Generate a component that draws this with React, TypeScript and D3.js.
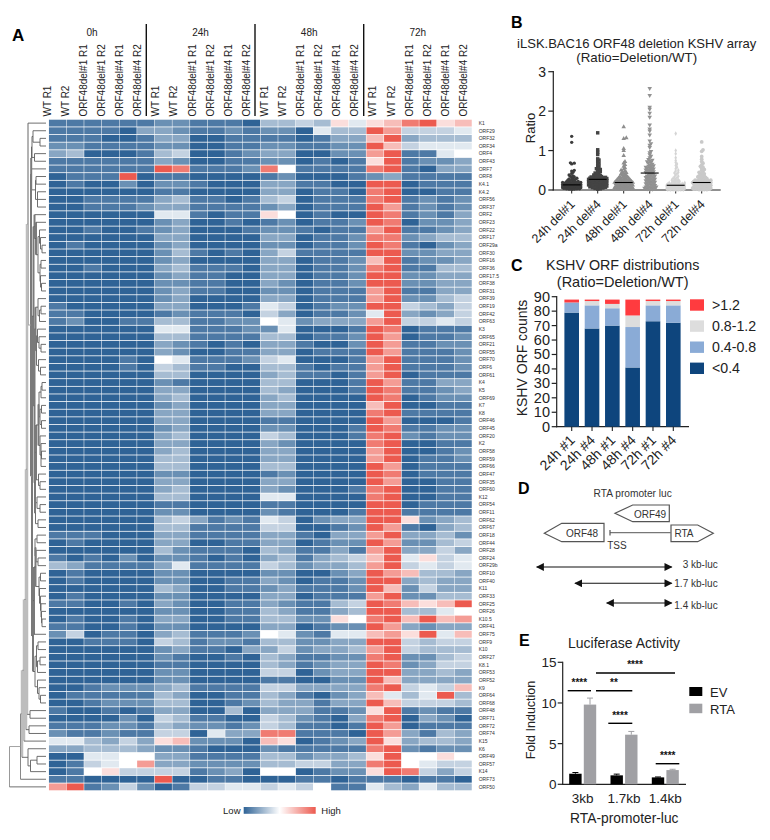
import React, { useMemo } from "react";
import * as d3 from "d3";

const FONT = "'Liberation Sans', Arial, sans-serif";

/* ---------- Panel A data ---------- */
const timeGroups = ["0h", "24h", "48h", "72h"];
const sampleLabels = ["WT R1", "WT R2", "ORF48del#1 R1", "ORF48del#1 R2", "ORF48del#4 R1", "ORF48del#4 R2"];
const geneLabels = ["K1","ORF29","ORF32","ORF34","ORF4","ORF43","ORF7","ORF8","K4.1","K4.2","ORF56","ORF37","ORF2","ORF23","ORF22","ORF17","ORF29a","ORF30","ORF16","ORF36","ORF17.5","ORF38","ORF31","ORF39","ORF19","ORF42","ORF63","K3","ORF65","ORF21","ORF55","ORF70","ORF6","ORF61","K4","K5","ORF69","K7","K8","ORF46","ORF45","ORF20","K2","ORF58","ORF59","ORF66","ORF47","ORF35","ORF60","K12","ORF54","ORF11","ORF62","ORF67","ORF18","ORF44","ORF28","ORF24","ORF29b","ORF10","ORF40","K11","ORF33","ORF25","ORF26","K10.5","ORF41","ORF75","ORF9","K10","ORF27","K8.1","ORF53","ORF52","K9","ORF64","ORF68","ORF48","ORF71","ORF72","ORF74","K15","K6","ORF49","ORF57","K14","ORF73","ORF50"];
// expression level per gene: base-13 digit, 0 = lowest, 7 = middle, c = highest
const heatLevels = [
"111111 221110 445486 89bc89",
"111103 321121 220644 ca5556",
"111001 330011 110133 9c3444",
"221111 220011 221122 c95666",
"340001 450012 330022 ac1167",
"111111 320011 220101 8c1223",
"111111 cb1112 b71111 bc1033",
"0111c0 110000 120001 231111",
"010020 221000 331100 cc0111",
"000000 110000 330110 bc0011",
"001111 341101 450111 bc1212",
"001112 331111 230111 ca1212",
"000000 661011 870100 cb1213",
"000000 230010 120112 cb0223",
"001001 230001 221011 ac1123",
"000000 330000 330112 bb2344",
"010000 230000 220112 cb1023",
"000000 241010 351111 cc2233",
"000000 230000 330112 9c1223",
"001000 341110 330112 bc1144",
"000000 231100 330112 cc2233",
"000000 221100 320112 cc2233",
"000000 231100 220111 ac1133",
"000000 230000 330111 ac2245",
"100000 330001 650122 cc5435",
"110000 121110 530112 6c3235",
"120011 441122 762333 ac5565",
"000000 661112 260001 cb0111",
"000000 441111 440112 ca0112",
"000000 321010 331002 ca1122",
"000000 320011 330111 ca1112",
"000010 761112 560001 ac1112",
"000010 541100 441011 ac1112",
"000000 440000 341101 ac0111",
"000000 210000 440001 ca1133",
"000000 330000 430001 cb1123",
"000000 340000 340000 cb0122",
"000000 230000 330000 9c0011",
"000000 330000 330000 bc1111",
"000000 330000 110000 ca0001",
"000000 230000 220001 cb1122",
"000000 340000 540001 bc2122",
"000000 330000 320000 bc0011",
"000000 340000 330000 ac0012",
"000000 440000 330000 ac0112",
"000000 440000 440000 ca0111",
"000000 220000 120000 cb0111",
"000000 330000 330000 ca0011",
"000000 340000 320001 bc0011",
"000000 440000 660000 bc0011",
"000000 110000 110000 cc0111",
"000000 220000 210001 cc1111",
"000000 453121 650233 cc8234",
"000000 441111 550012 ca1034",
"111000 331111 331033 ac3342",
"010000 330011 330122 ca2245",
"000000 421110 431131 ac3353",
"101020 221010 341345 9c6856",
"431111 361111 542334 ac5656",
"010000 220000 220023 ca9443",
"010000 220011 320112 cc3433",
"000000 430011 231112 c92533",
"010000 220000 330111 ac2244",
"110010 320011 321145 cb989c",
"000000 220011 431134 cc4467",
"010010 330011 442287 bc9c9a",
"110010 220000 330122 ca3233",
"250110 341112 762166 9a8c69",
"001110 541221 442233 cc5455",
"000000 231103 352334 ac5444",
"000000 210010 431122 bc2245",
"000000 110000 431233 cb2355",
"000000 220000 550233 cc3343",
"000000 220000 110022 c93333",
"001222 341111 553333 bc5659",
"011111 430011 431023 9646c4",
"001222 440012 433133 c95554",
"100101 330040 333112 8c1211",
"000020 541100 542103 bc0320",
"111221 432212 541101 ca0111",
"211211 550633 bb1110 ca3143",
"664353 892220 980123 c83443",
"334443 221000 211111 bc2122",
"006677 331111 442334 8c7787",
"01567a 332222 445533 bc7655",
"017855 551230 770122 8cb535",
"110000 c00110 001101 110110",
"ac1252 015566 565711 643644",
];

// Dendrogram: [merge height, ...children]; a child is a gene name or another merge
const topGenes = [14.5, [14, [13, "ORF29", [6, "ORF32", "ORF34"]], [11.5, "ORF4", "ORF43"]], "ORF7"];
const k4Genes = [10.5, [10, "ORF8", "K4.1"], [8.5, "K4.2", "ORF56", "ORF37"]];
const g3 = [11.5, "ORF2", [10, "ORF23", [8, [6.5, "ORF22", [5.5, "ORF17", [4, "ORF29a", "ORF30"]]], [6, [5, "ORF16", "ORF36"], [5.5, "ORF17.5", [4.5, "ORF38", "ORF31"]]]]]];
const g4 = [8, "ORF39", [6.5, [5, "ORF19", "ORF42"], "ORF63"]];
const g5 = [8.5, "K3", [7, "ORF65", [5, "ORF21", "ORF55"]]];
const g6 = [7.5, "ORF70", [5.5, "ORF6", "ORF61"]];
const g7 = [7.5, [7, [5, [4, "K4", "K5"], "ORF69"], [6, [4.5, "K7", "K8"], [4.5, "ORF46", "ORF45"]]], [6, "ORF20", [5, "K2", [4.5, "ORF58", "ORF59"], "ORF66"]]];
const g8 = [7.5, "ORF47", [6, "ORF35", "ORF60"]];
const g9 = [9, "K12", [6, "ORF54", "ORF11"]];
const upperBlock = [12.5, g3, [11.5, [10.5, g4, [9.5, g5, g6]], [11, [10, g7, g8], [10.5, g9, [8, "ORF62", "ORF67"]]]]];
const l1 = [11, [9, "ORF18", "ORF44"], [10, "ORF28", [8, "ORF24", "ORF29b"]]];
const l2 = [7, [5.5, "ORF10", "ORF40"], [6.5, "K11", [5.5, "ORF33", [5, "ORF25", [4.5, "ORF26", [4, "K10.5", "ORF41"]]]]]];
const l3 = [12, [10.5, l1, l2], "ORF75"];
const l4 = [9.5, [8, "ORF9", "K10"], [8.5, [6, "ORF27", "K8.1"], "ORF53"]];
const l5 = [8.5, "ORF52", [7, "K9", [5.5, "ORF64", "ORF68"]]];
const lowerBlock = [13, l3, [11, l4, l5]];
const dendrogram = [36.5, [25.5, [24, [22, [20, [19, [18, "K1", [15, [14.8, topGenes, k4Genes], [14, upperBlock, lowerBlock]]], [16, "ORF48", "ORF71"]], [17, "ORF72", "ORF74"]], "K15"], [18, "K6", [15.5, [9, "ORF49", "ORF57"], "K14"]]], "ORF73"], "ORF50"];

/* ---------- Panel B data ---------- */
const ratioGroups = ["24h del#1", "24h del#4", "48h del#1", "48h del#4", "72h del#1", "72h del#4"];
const ratioMedians = [0.13, 0.27, 0.19, 0.43, 0.12, 0.19];
const ratio24h1 = [1.36,1.21,.69,.68,.66,.5,.48,.45,.42,.38,.36,.35,.33,.32,.3,.29,.28,.27,.26,.25,.24,.23,.22,.21,.21,.2,.2,.19,.19,.18,.18,.17,.17,.17,.16,.16,.16,.15,.15,.15,.14,.14,.14,.14,.13,.13,.13,.13,.13,.12,.12,.12,.12,.11,.11,.11,.1,.1,.1,.1,.09,.09,.09,.09,.08,.08,.08,.08,.07,.07,.07,.07,.06,.06,.06,.06,.05,.05,.05,.04,.04,.04,.03,.03,.03,.02,.02,.01];
const ratio24h4 = [1.45,1.02,.96,.9,.79,.76,.72,.68,.64,.6,.57,.54,.52,.5,.47,.45,.43,.41,.39,.38,.37,.36,.35,.34,.33,.33,.32,.32,.31,.31,.3,.3,.29,.29,.28,.28,.28,.27,.27,.27,.26,.26,.26,.25,.25,.25,.24,.24,.23,.23,.22,.22,.21,.21,.2,.2,.19,.19,.18,.18,.17,.17,.16,.16,.15,.15,.14,.14,.13,.13,.12,.12,.11,.11,.1,.1,.09,.09,.08,.08,.07,.07,.06,.06,.05,.04,.03,.02];
const ratio48h1 = [1.6,1.32,1.3,1.05,1.0,.87,.72,.68,.64,.6,.56,.53,.5,.48,.46,.44,.42,.41,.39,.38,.36,.35,.34,.33,.32,.31,.3,.29,.28,.28,.27,.26,.25,.25,.24,.24,.23,.22,.22,.21,.21,.2,.2,.2,.19,.19,.19,.18,.18,.17,.17,.16,.16,.15,.15,.14,.14,.13,.13,.12,.12,.11,.11,.1,.1,.09,.09,.08,.08,.07,.07,.06,.06,.05,.05,.05,.04,.04,.04,.03,.03,.03,.02,.02,.02,.01,.01,.01];
const ratio48h4 = [2.58,2.4,2.1,2.05,1.95,1.85,1.65,1.55,1.5,1.4,1.25,1.18,1.14,1.08,.98,.95,.9,.86,.82,.78,.76,.74,.72,.7,.68,.66,.64,.62,.61,.6,.58,.57,.56,.55,.54,.53,.52,.51,.5,.49,.48,.47,.46,.45,.44,.43,.41,.39,.38,.37,.36,.35,.34,.33,.32,.31,.3,.29,.28,.27,.26,.25,.24,.23,.22,.21,.2,.19,.18,.17,.16,.15,.14,.13,.12,.11,.1,.09,.08,.08,.07,.06,.05,.05,.04,.03,.02,.01];
const ratio72h1 = [1.43,1.0,.92,.82,.75,.7,.66,.62,.58,.54,.5,.48,.45,.43,.41,.38,.35,.33,.31,.29,.27,.26,.25,.24,.23,.22,.21,.2,.19,.18,.18,.17,.17,.16,.16,.15,.15,.14,.14,.14,.13,.13,.13,.12,.12,.12,.12,.11,.11,.11,.1,.1,.1,.09,.09,.09,.08,.08,.08,.07,.07,.07,.06,.06,.06,.05,.05,.05,.04,.04,.04,.03,.03,.03,.03,.02,.02,.02,.02,.02,.01,.01,.01,.01,.01,.01,.01,.01];
const ratio72h4 = [1.22,1.02,.98,.85,.78,.72,.68,.64,.6,.58,.55,.52,.5,.47,.45,.43,.41,.39,.38,.36,.35,.34,.33,.32,.31,.3,.29,.28,.27,.26,.25,.25,.24,.24,.23,.23,.22,.22,.21,.21,.2,.2,.2,.19,.19,.19,.18,.18,.17,.17,.16,.16,.15,.15,.14,.14,.13,.13,.12,.12,.11,.11,.1,.1,.09,.09,.08,.08,.07,.07,.06,.06,.05,.05,.05,.04,.04,.04,.03,.03,.03,.02,.02,.02,.01,.01,.01,.01];
const ratioSeries = [ratio24h1, ratio24h4, ratio48h1, ratio48h4, ratio72h1, ratio72h4];
const ratioColors = ["#3d3d3d", "#444444", "#8e8e8e", "#929292", "#d4d4d4", "#c9c9c9"];
const ratioShapes = [d3.symbolCircle, d3.symbolSquare, d3.symbolTriangle, "down", d3.symbolDiamond, d3.symbolCircle];
const ratioSizes = [8.5, 12, 9, 9, 6, 11];

/* ---------- Panel C data ---------- */
const orfGroups = ["24h #1", "24h #4", "48h #1", "48h #4", "72h #1", "72h #4"];
const binNames = ["<0.4", "0.4-0.8", "0.8-1.2", ">1.2"];
const binColors = ["#0e457d", "#8aabd6", "#dddddd", "#ff3b3f"];
const binLow = [79, 68, 70, 41, 73, 72];
const binMid = [7, 16, 12, 28, 11, 12];
const binHigh = [0, 3, 3, 8, 3, 3];
const binTop = [2, 1, 3, 11, 1, 1];

/* ---------- Panel E data ---------- */
const lucGroups = ["3kb", "1.7kb", "1.4kb"];
const lucEV = [1.3, 1.1, 0.85];
const lucEVErr = [0.15, 0.15, 0.05];
const lucRTA = [9.8, 6.1, 1.75];
const lucRTAErr = [0.8, 0.4, 0.1];

/* ---------- helpers ---------- */
const T = (p: any) => <text fontFamily={FONT} fill="#222" {...p} />;

function branchStyle(h: number, size: number) {
  if (size < 10) return { w: 0.9, c: "#5f5f5f" };
  if (h >= 36) return { w: 1, c: "#999999" };
  if (h === 25.5) return { w: 1, c: "#888888" };
  if (h === 18) return { w: 1, c: "#666666" };
  if (h >= 19) return { w: 2.5, c: "#bdbdbd" };
  return { w: 2, c: "#7a7a7a" };
}

function layoutTree(root: any, yOf: (n: string) => number, xOf: (h: number) => number) {
  const segs: any[] = [];
  function walk(n: any): { x: number; y: number; size: number } {
    if (typeof n === "string") return { x: xOf(0), y: yOf(n), size: 1 };
    const [h, ...kids] = n;
    const cs = kids.map(walk);
    const x = xOf(h);
    const size = d3.sum(cs, (c: any) => c.size);
    const ys = cs.map((c: any) => c.y);
    segs.push({ x1: x, x2: x, y1: d3.min(ys), y2: d3.max(ys), ...branchStyle(h, size) });
    cs.forEach((c: any) => segs.push({ x1: x, x2: c.x, y1: c.y, y2: c.y, w: 0.9, c: c.size > 60 ? "#9a9a9a" : "#5f5f5f" }));
    return { x, y: (ys[0] + ys[ys.length - 1]) / 2, size };
  }
  walk(root);
  return segs;
}

function swarm(values: number[], y: (v: number) => number, cap: number, step: number, minD: number) {
  const sorted = [...values].sort((a, b) => a - b);
  const placed: { dx: number; py: number }[] = [];
  sorted.forEach((v) => {
    const py = y(v);
    let best = 0, bestD = -1;
    for (let i = 0; ; i++) {
      const off = i === 0 ? 0 : (i % 2 ? 1 : -1) * Math.ceil(i / 2) * step;
      if (Math.abs(off) > cap) break;
      const near = placed.filter((p) => Math.abs(p.py - py) < minD + 1);
      const d = near.length ? d3.min(near, (p) => Math.hypot(p.dx - off, p.py - py))! : 99;
      if (d >= minD) { best = off; bestD = d; break; }
      if (d > bestD) { bestD = d; best = off; }
    }
    placed.push({ dx: best, py });
  });
  return placed;
}

function LeftAxis({ scale, ticks, x, len = 5 }: any) {
  const [a, b] = scale.range();
  return (
    <g stroke="#222" strokeWidth={1.2}>
      <line x1={x} x2={x} y1={a + 0.6} y2={b - 0.6} />
      {ticks.map((t: number) => <line key={t} x1={x - len} x2={x} y1={scale(t)} y2={scale(t)} />)}
    </g>
  );
}

export default function App() {
  /* Panel A scales */
  const allColumns = d3.range(24);
  const xCell = d3.scaleBand<number>().domain(allColumns).range([48.7, 472]);
  const yCell = d3.scaleBand<string>().domain(geneLabels).range([119.3, 790.7]);
  const heatColor = d3.scaleLinear<string>().domain([0, 7, 12]).range(["#2f6396", "#ffffff", "#ec5a4f"]);
  const xHeader = d3.scaleLinear().domain([0, 23]).range([47.3, 463.4]);
  const xDend = d3.scaleLinear().domain([0, 36.5]).range([46, 9.5]);
  const dendSegs = useMemo(() => layoutTree(dendrogram, (n) => yCell(n)! + yCell.bandwidth() / 2, xDend), []);

  /* Panel B scales */
  const yB = d3.scaleLinear().domain([0, 3]).range([190, 71.7]);
  const xB = d3.scalePoint<string>().domain(ratioGroups).range([571.7, 701.7]);
  const swarms = useMemo(() => ratioSeries.map((s) => swarm(s, yB, 9.5, 1.3, 1.7)), []);

  /* Panel C scales */
  const yC = d3.scaleLinear().domain([0, 90]).range([426.7, 296.7]);
  const xC = d3.scalePoint<string>().domain(orfGroups).range([571.7, 673.3]);
  const stackKeys = [binLow, binMid, binHigh, binTop];
  const stack = d3.stack<number>().keys([0, 1, 2, 3] as any).value((i: any, k: any) => stackKeys[k][i])(d3.range(6));

  /* Panel E scales */
  const yE = d3.scaleLinear().domain([0, 15]).range([784.3, 662.3]);
  const xE = d3.scalePoint<string>().domain(lucGroups).range([582.7, 665.3]);
  const lucBars = (vals: number[], errs: number[], dx: number, fill: string) =>
    vals.map((v, i) => {
      const cx = xE(lucGroups[i])! + dx;
      return (
        <g key={fill + i}>
          <line x1={cx} x2={cx} y1={yE(v)} y2={yE(v + errs[i])} stroke={fill} strokeWidth={1} />
          <line x1={cx - 3} x2={cx + 3} y1={yE(v + errs[i])} y2={yE(v + errs[i])} stroke={fill} strokeWidth={1} />
          <rect x={cx - 6.2} width={12.4} y={yE(v)} height={yE(0) - yE(v)} fill={fill} />
        </g>
      );
    });

  const sym = (shape: any, size: number) => {
    if (shape === "down") return d3.symbol().type(d3.symbolTriangle).size(size)()!;
    return d3.symbol().type(shape).size(size)()!;
  };

  const sigBars = [
    { x1: 567.7, x2: 591, y: 690.7, label: "****", lx: 579.3, ly: 686 },
    { x1: 596, x2: 632.3, y: 690.7, label: "**", lx: 614, ly: 686 },
    { x1: 596, x2: 675, y: 673, label: "****", lx: 635, ly: 668 },
    { x1: 608.3, x2: 632.3, y: 723.3, label: "****", lx: 620, ly: 718.5 },
    { x1: 655.7, x2: 679.3, y: 763.7, label: "****", lx: 667.7, ly: 759 },
  ];

  return (
    <svg width={770} height={840} style={{ position: "absolute", left: 0, top: 0, background: "#fff" }}>
      <defs>
        <linearGradient id="hm">
          {[0, 0.5, 1].map((o, i) => (
            <stop key={o} offset={o} stopColor={["#2f6396", "#ffffff", "#ec5a4f"][i]} />
          ))}
        </linearGradient>
        <marker id="arrL" viewBox="0 0 10 10" refX="9" refY="5" markerWidth="8.5" markerHeight="8" orient="auto-start-reverse" markerUnits="userSpaceOnUse">
          <path d="M0 0L10 5L0 10Z" fill="#111" />
        </marker>
      </defs>

      {/* ===== Panel A ===== */}
      <T x={12} y={41} fontSize={17} fontWeight="bold" fill="#000">A</T>
      {timeGroups.map((g, i) => (
        <T key={g} x={92 + i * 108.6} y={36} fontSize={10} textAnchor="middle">{g}</T>
      ))}
      {[1, 2, 3].map((i) => {
        const x = 146.3 + (i - 1) * 108.7;
        return <line key={i} x1={x} x2={x} y1={24} y2={116} stroke="#111" strokeWidth={1.4} />;
      })}
      {allColumns.map((c) => {
        const x = xHeader(c);
        return (
          <T key={c} transform={`translate(${x + 3.5},116.5) rotate(-90)`} fontSize={10}>{sampleLabels[c % 6]}</T>
        );
      })}
      <g>
        {heatLevels.map((row, r) =>
          row.replace(/ /g, "").split("").map((ch, c) => (
            <rect
              key={`${r}-${c}`}
              x={xCell(c)! + 0.25}
              y={yCell(geneLabels[r])! + 0.4}
              width={xCell.bandwidth() - 0.5}
              height={yCell.bandwidth() - 0.8}
              fill={heatColor(parseInt(ch, 13))}
            />
          ))
        )}
      </g>
      {geneLabels.map((g) => (
        <T key={g} x={478.7} y={yCell(g)! + yCell.bandwidth() / 2 + 1.8} fontSize={5} fill="#333">{g}</T>
      ))}
      <g>
        {dendSegs.map((s, i) => (
          <line key={i} x1={s.x1} x2={s.x2} y1={s.y1} y2={s.y2} stroke={s.c} strokeWidth={s.w} />
        ))}
      </g>
      <rect x={243.7} y={807} width={72} height={6.8} fill="url(#hm)" />
      <T x={240.5} y={813.5} fontSize={9.5} textAnchor="end">Low</T>
      <T x={321.3} y={813.5} fontSize={9.5}>High</T>

      {/* ===== Panel B ===== */}
      <T x={511} y={28} fontSize={16} fontWeight="bold" fill="#000">B</T>
      <T x={636.7} y={47.5} fontSize={13} textAnchor="middle">iLSK.BAC16 ORF48 deletion KSHV array</T>
      <T x={636.7} y={62} fontSize={13.3} textAnchor="middle">(Ratio=Deletion/WT)</T>
      <LeftAxis scale={yB} ticks={[0, 1, 2, 3]} x={553.3} len={5} />
      <line x1={552.7} x2={720.7} y1={190} y2={190} stroke="#222" strokeWidth={1.2} />
      {[0, 1, 2, 3].map((t) => (
        <T key={t} x={546} y={yB(t) + 5} fontSize={14} textAnchor="end">{t}</T>
      ))}
      <T transform="translate(534.5,128) rotate(-90)" fontSize={13} textAnchor="middle">Ratio</T>
      {ratioGroups.map((g, i) => {
        const cx = xB(g)!;
        const path = sym(ratioShapes[i], ratioSizes[i]);
        return (
          <g key={g}>
            <line x1={cx} x2={cx} y1={190} y2={193.5} stroke="#222" strokeWidth={1} />
            {swarms[i].map((p, k) => (
              <path
                key={k}
                d={path}
                transform={`translate(${cx + p.dx},${p.py})${ratioShapes[i] === "down" ? " rotate(180)" : ""}`}
                fill={ratioColors[i]}
              />
            ))}
            <line x1={cx - 9} x2={cx + 9} y1={yB(ratioMedians[i])} y2={yB(ratioMedians[i])} stroke="#000" strokeWidth={1.1} />
            <T transform={`translate(${cx + 4},205) rotate(-45)`} fontSize={12.5} textAnchor="end">{g}</T>
          </g>
        );
      })}

      {/* ===== Panel C ===== */}
      <T x={511} y={270.5} fontSize={16} fontWeight="bold" fill="#000">C</T>
      <T x={622.7} y={270} fontSize={14.3} textAnchor="middle">KSHV ORF distributions</T>
      <T x={622.7} y={286.5} fontSize={14.5} textAnchor="middle">(Ratio=Deletion/WT)</T>
      <LeftAxis scale={yC} ticks={d3.range(0, 91, 10)} x={556.7} len={5} />
      <line x1={556} x2={689} y1={426.7} y2={426.7} stroke="#222" strokeWidth={1.2} />
      {d3.range(0, 91, 10).map((t) => (
        <T key={t} x={550} y={yC(t) + 5} fontSize={14.5} textAnchor="end">{t}</T>
      ))}
      <T transform="translate(527,358) rotate(-90)" fontSize={14} textAnchor="middle">KSHV ORF counts</T>
      {stack.map((layer: any, k: number) =>
        layer.map((d: any, i: number) => (
          <rect
            key={`${k}-${i}`}
            x={xC(orfGroups[i])! - 7.3}
            width={14.6}
            y={yC(d[1])}
            height={yC(d[0]) - yC(d[1])}
            fill={binColors[k]}
          />
        ))
      )}
      {orfGroups.map((g) => (
        <g key={g}>
          <line x1={xC(g)!} x2={xC(g)!} y1={426.7} y2={431} stroke="#222" strokeWidth={1.1} />
          <T transform={`translate(${xC(g)! + 4},441) rotate(-45)`} fontSize={14} textAnchor="end">{g}</T>
        </g>
      ))}
      {[3, 2, 1, 0].map((k, i) => (
        <g key={k}>
          <rect x={690} y={299.3 + i * 21.1} width={14} height={11.4} fill={binColors[k]} />
          <T x={712} y={310 + i * 21.1} fontSize={14.2}>{binNames[k]}</T>
        </g>
      ))}

      {/* ===== Panel D ===== */}
      <T x={518} y={494} fontSize={16} fontWeight="bold" fill="#000">D</T>
      <T x={632.7} y={497} fontSize={10.2} textAnchor="middle" fill="#333">RTA promoter luc</T>
      <g fill="none" stroke="#555" strokeWidth={1.2}>
        <polygon points="615,513.3 632.7,505 669.3,505 669.3,521.7 632.7,521.7" />
        <polygon points="544.3,533.3 561.7,523.3 604,523.3 604,541.7 561.7,541.7" />
        <polygon points="671,525 697.7,525 713.3,533.3 697.7,541.7 671,541.7" />
        <line x1={610} x2={671} y1={532.7} y2={532.7} stroke="#777" />
        <line x1={610} x2={610} y1={530} y2={535.4} stroke="#555" />
      </g>
      <T x={650} y={517.5} fontSize={10} textAnchor="middle" fill="#333">ORF49</T>
      <T x={582} y={537} fontSize={10} textAnchor="middle" fill="#333">ORF48</T>
      <T x={684} y={537} fontSize={10} textAnchor="middle" fill="#333">RTA</T>
      <T x={617} y={548.5} fontSize={10} textAnchor="middle" fill="#333">TSS</T>
      {[
        { x1: 536.7, y: 567, label: "3 kb-luc", lx: 682.7, ly: 568 },
        { x1: 575, y: 583.3, label: "1.7 kb-luc", lx: 674.3, ly: 586.8 },
        { x1: 606.7, y: 603, label: "1.4 kb-luc", lx: 674.3, ly: 609 },
      ].map((a) => (
        <g key={a.label}>
          <line x1={a.x1} x2={671.7} y1={a.y} y2={a.y} stroke="#111" strokeWidth={1.1} markerStart="url(#arrL)" markerEnd="url(#arrL)" />
          <T x={a.lx} y={a.ly} fontSize={10} fill="#333">{a.label}</T>
        </g>
      ))}

      {/* ===== Panel E ===== */}
      <T x={519} y={646} fontSize={16} fontWeight="bold" fill="#000">E</T>
      <T x={624} y={648} fontSize={14} textAnchor="middle">Luciferase Activity</T>
      <LeftAxis scale={yE} ticks={[0, 5, 10, 15]} x={562.7} len={5} />
      <line x1={562} x2={686} y1={784.3} y2={784.3} stroke="#222" strokeWidth={1.2} />
      {[0, 5, 10, 15].map((t) => (
        <T key={t} x={556.5} y={yE(t) + 5} fontSize={13.5} textAnchor="end">{t}</T>
      ))}
      <T transform="translate(534.5,720) rotate(-90)" fontSize={12.5} textAnchor="middle">Fold Induction</T>
      {lucBars(lucEV, lucEVErr, -7.3, "#000000")}
      {lucBars(lucRTA, lucRTAErr, 7.3, "#a0a0a4")}
      {lucGroups.map((g) => (
        <T key={g} x={xE(g)!} y={803} fontSize={13.5} textAnchor="middle">{g}</T>
      ))}
      <T x={624.3} y={822.5} fontSize={13.8} textAnchor="middle">RTA-promoter-luc</T>
      {sigBars.map((s, i) => (
        <g key={i}>
          <line x1={s.x1} x2={s.x2} y1={s.y} y2={s.y} stroke="#000" strokeWidth={1.4} />
          <T x={s.lx} y={s.ly} fontSize={10} fontWeight="bold" textAnchor="middle" fill="#111">{s.label}</T>
        </g>
      ))}
      <rect x={689.3} y={687} width={13} height={9} fill="#000" />
      <rect x={689.3} y={703.7} width={13} height={9.5} fill="#a0a0a4" />
      <T x={710} y={696.5} fontSize={13}>EV</T>
      <T x={710} y={713.5} fontSize={13}>RTA</T>
    </svg>
  );
}
